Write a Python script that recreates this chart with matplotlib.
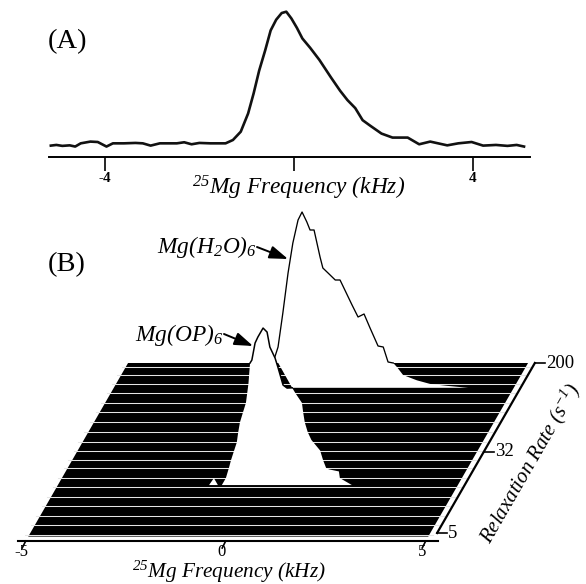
import numpy as np
import matplotlib
matplotlib.use("Agg")
import matplotlib.pyplot as plt

plt.rcParams['font.family'] = ['Liberation Serif', 'DejaVu Serif']
plt.rcParams['mathtext.default'] = 'regular'

# Panel A spectrum
freq_a = [-5.18,-5.06,-4.93,-4.77,-4.65,-4.53,-4.32,-4.16,-3.97,-3.83,-3.59,-3.34,-3.18,-3.01,-2.81,-2.44,-2.28,-2.12,-1.95,-1.71,-1.38,-1.22,-1.05,-.89,-.77,-.65,-.52,-.40,-.28,-.16,-.06,.05,.17,.29,.46,.66,.91,1.11,1.27,1.44,1.60,1.76,2.01,2.25,2.58,2.83,3.07,3.44,3.68,3.97,4.22,4.50,4.75,4.95,5.11]
inten_a = [0,.5,-.2,.2,-.7,1.7,3,2.7,-.7,1.7,1.7,2,1.7,0,1.7,1.7,2.5,1,2,1.7,1.7,4.2,10.4,24,39,56,71,86,94,99,100,95,88,80,73,64,51,41,34,28,19,15,9,6,6,1,3,.2,1.7,2.7,0,.5,-.2,.5,-.7]
ticks_a = [-4, 0.1, 4]
ticklabels_a = ['-4', '', '4']

# Panel B: relaxation rates of the white separators between stacked slices
slice_rates = [184,156,130,108,88,73,59,48,39,33,26.6,22.2,17.6,14.3,11.4,9.3,7.4,6,4.8]
depth_ticks = [5, 32, 200]
depth_tick_rows = [533, 452, 363]   # image rows of the depth scale
freq_ticks_b = [-5, 0, 5]

# Hole edges in the black sheet (rate, kHz)
hole_left_rate = [200,130,88,73,59,48,39,33,26.6,22.2,17.6,15]
hole_left_freq = [-1.95,-1.69,-1.48,-1.42,-1.35,-1.25,-1.14,-1.09,-1.03,-.97,-.90,-.90]
hole_right_rate = [120,108,88,73,59,48,41,33,26.6,22.2,21.5,20.5,17.6,15]
hole_right_freq = [-.54,-.39,-.08,.08,.27,.49,.69,1.06,1.27,1.46,1.55,1.83,1.95,2.35]
notch_rate = [15,17.6,15]
notch_freq = [-1.22,-1.20,-1.0]
tail_rate = [200,184,156,140,130,125,120]
tail_freq = [1.63,1.78,2.05,2.47,2.85,3.3,3.86]

# Front peak, Mg(OP)6: trace on the slice at rate 15 (kHz, height)
front_freq = [-.15,-.07,0,.13,.23,.3,.43,.5,.63,.73]
front_h = [125,142,148,157,153,138,127,118,100,97]
# Rear peak, Mg(H2O)6: trace on the slice at rate 200 (kHz, height)
rear_freq = [-1.33,-1.25,-1.13,-1.0,-.88,-.75,-.65,-.53,-.45,-.35,-.2,-.13,0,.18,.3,.6,.75,.9,1.05,1.25,1.38,1.5,1.63]
rear_h = [6,16,50,90,120,143,151,141,133,133,106,95,90,83,83,58,46,49,35,17,16,1,0]

# Projection constants (image pixels)
CX, KHZ, ROW0, SKEW = 228.0, 40.0, 537.0, 0.575
W, H = 586, 584
log_t, rows_t = np.log(depth_ticks), np.array(depth_tick_rows, float)


def row_of(rate):
    rate = np.asarray(rate, float)
    return np.interp(np.log(rate), log_t, rows_t) + np.where(rate < 5, (np.log(5) - np.log(rate)) * 43.6, 0)


def project(freq, rate, height=0):
    freq, rate, height = np.broadcast_arrays(np.asarray(freq, float), np.asarray(rate, float), np.asarray(height, float))
    y = row_of(rate)
    x = CX + freq * KHZ + (ROW0 - y) * SKEW
    return x, y - height


fig = plt.figure(figsize=(W / 100, H / 100), dpi=100, facecolor='white')

# ---- Panel A
axa = fig.add_axes([49 / W, 1 - 157 / H, (530 - 49) / W, (157 - 5) / H])
axa.plot(freq_a, inten_a, color='#111111', lw=1.9)
axa.set_xlim(-5.22, 5.24)
axa.set_ylim(-8.5, 105)
for s in ['top', 'left', 'right']:
    axa.spines[s].set_visible(False)
axa.spines['bottom'].set_linewidth(1.4)
axa.set_yticks([])
axa.set_xticks(ticks_a, ticklabels_a, fontsize=11, fontweight='bold')
axa.tick_params(axis='x', length=10, width=1.2, pad=1)
axa.set_xlabel(r'$^{25}$Mg Frequency (kHz)', fontsize=16.8, style='italic', labelpad=-8, x=0.518)

# ---- Panel B
ax = fig.add_axes([0, 0, 1, 1])
ax.set_xlim(0, W)
ax.set_ylim(H, 0)
ax.axis('off')
ax.patch.set_alpha(0)

# Black sheet
cx_, cy_ = project([-5, 5, 5, -5], [200, 200, 4.6, 4.6])
ax.fill(cx_, cy_, color='black', lw=0, zorder=1)
for r in slice_rates:
    x, y = project([-5.1, 5.1], [r, r])
    ax.plot(x, y, color='#e4e4e4', lw=0.75, zorder=2)

# Rear peak hole
rx, ry = project(rear_freq, 200, rear_h)
tx, ty = project(tail_freq, tail_rate)
bx, by = project(hole_right_freq[0], hole_right_rate[0])
ax.fill(np.r_[rx, tx, bx], np.r_[ry, ty, by], color='white', lw=0, zorder=3)
# Front peak hole: up the left edge, over the peak, down the right edge
lx, ly = project(hole_left_freq, hole_left_rate)
rgx, rgy = project(hole_right_freq, hole_right_rate)
fx, fy = project(front_freq, 15, front_h)
ax.fill(np.r_[lx[::-1], fx, rgx], np.r_[ly[::-1], fy, rgy], color='white', lw=0, zorder=4)
ax.plot(np.r_[lx[0], fx, rgx[0]], np.r_[ly[0], fy, rgy[0]], color='black', lw=1.1, zorder=6)
ax.plot(rx, ry, color='black', lw=0.95, zorder=5)
nx, ny = project(notch_freq, notch_rate)
ax.fill(nx, ny, color='white', lw=0, zorder=4)

# Front axis
ax_x, ax_y = project([-5.2, 5.3], 4.16)
ax.plot(ax_x, ax_y, color='black', lw=1.5, zorder=6)
for f in freq_ticks_b:
    tx0, ty0 = project(f, 4.16)
    ax.plot([tx0, tx0 - 3.5], [ty0, ty0 + 7], color='black', lw=1.2, zorder=6)
    ax.text(tx0 - 4, ty0 + 10.5, str(f), ha='center', va='center', fontsize=12)

# Depth axis
dx, dy = project(5.17, depth_ticks)
ax.plot([dx[0], dx[-1]], [dy[0], dy[-1]], color='black', lw=1.6, zorder=6)
for xx, yy, t in zip(dx, dy, depth_ticks):
    ax.plot([xx, xx + 10], [yy, yy], color='black', lw=1.2, zorder=6)
    ax.text(xx + 11, yy, str(t), ha='left', va='center', fontsize=13.5)

# Text
ax.text(48, 42, '(A)', fontsize=20.5, ha='left', va='center')
ax.text(48, 265, '(B)', fontsize=20.5, ha='left', va='center')
ax.text(157, 247, r'Mg(H$_2$O)$_6$', fontsize=16.8, style='italic', ha='left', va='center')
ax.text(135, 335, r'Mg(OP)$_6$', fontsize=16.8, style='italic', ha='left', va='center')
ax.annotate('', xy=(288, 259), xytext=(257, 247),
            arrowprops=dict(arrowstyle='-|>,head_length=0.8,head_width=0.28', color='black', lw=1.4,
                            mutation_scale=14, shrinkA=0, shrinkB=0))
ax.annotate('', xy=(253, 346), xytext=(224, 334),
            arrowprops=dict(arrowstyle='-|>,head_length=0.8,head_width=0.28', color='black', lw=1.4,
                            mutation_scale=14, shrinkA=0, shrinkB=0))
ax.text(229, 572, r'$^{25}$Mg Frequency (kHz)', fontsize=15.3, style='italic', ha='center', va='center')
ax.text(530, 464, r'Relaxation Rate (s$^{-1}$)', fontsize=15, style='italic', rotation=60,
        ha='center', va='center', rotation_mode='anchor')

fig.savefig('out.png', dpi=100, facecolor='white')
